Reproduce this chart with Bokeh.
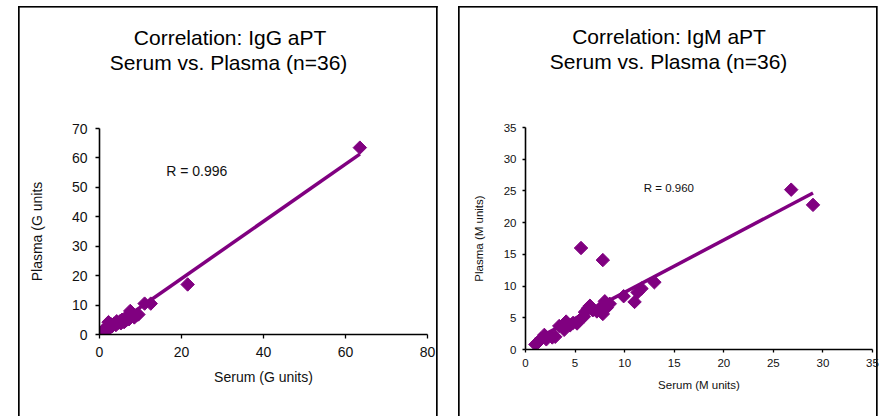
import numpy as np
from bokeh.plotting import figure
from bokeh.models import Range1d, Label, FixedTicker, Title
from bokeh.layouts import row
from bokeh.embed import file_html
from bokeh.resources import INLINE

# ---------------- data ----------------
igg_serum = [0.2, 0.5, 0.6, 0.8, 1.0, 1.2, 1.5, 1.8, 2.0, 2.2, 2.5, 2.8, 3.0, 3.2,
             3.5, 4.0, 4.2, 4.5, 5.0, 5.2, 5.5, 6.0, 6.2, 6.5, 7.0, 7.2, 7.5, 7.8,
             8.0, 8.5, 9.0, 9.5, 11.0, 12.5, 21.5, 63.5]
igg_plasma = [0.3, 0.2, 1.0, 0.8, 1.2, 0.6, 1.8, 2.5, 3.0, 4.2, 2.2, 3.5, 2.8, 3.0,
              3.6, 3.2, 4.5, 4.0, 4.5, 3.8, 5.0, 4.2, 5.5, 4.8, 6.0, 5.2, 8.0, 6.5,
              7.2, 5.8, 6.5, 6.8, 10.5, 10.5, 17.0, 63.5]

igm_serum = [1.0, 1.3, 1.6, 1.9, 2.1, 2.7, 3.0, 3.4, 3.9, 4.0, 4.1, 4.5, 4.8, 5.2,
             5.5, 5.6, 5.9, 6.0, 6.3, 6.5, 6.8, 7.2, 7.5, 7.8, 7.8, 7.9, 8.0, 8.2,
             8.5, 9.9, 11.0, 11.3, 11.7, 13.0, 26.8, 29.0]
igm_plasma = [0.8, 1.2, 1.7, 2.3, 1.6, 1.9, 2.0, 3.7, 3.1, 3.6, 4.4, 3.8, 4.2, 4.1,
              4.7, 16.0, 5.2, 5.9, 6.5, 6.9, 6.2, 6.0, 6.5, 5.6, 14.1, 7.0, 7.6, 6.6,
              7.2, 8.4, 7.5, 9.0, 9.6, 10.6, 25.2, 22.8]

igg_titles = ["Correlation: IgG aPT", "Serum vs. Plasma (n=36)"]
igm_titles = ["Correlation: IgM aPT", "Serum vs. Plasma (n=36)"]
igg_xlabel, igg_ylabel = "Serum (G units)", "Plasma (G units"
igm_xlabel, igm_ylabel = "Serum (M units)", "Plasma (M units)"
igg_r_text = "R = 0.996"
igm_r_text = "R = 0.960"
igg_xticks = [0, 20, 40, 60, 80]
igg_yticks = [0, 10, 20, 30, 40, 50, 60, 70]
igm_xticks = [0, 5, 10, 15, 20, 25, 30, 35]
igm_yticks = [0, 5, 10, 15, 20, 25, 30, 35]

PURPLE = "#800080"
FONT = "Liberation Sans"
H = 416


def border_css(left, right, top):
    """Chart-area border (top, left, right edges; bottom is off the picture)."""
    return {
        "background-image": "linear-gradient(#000,#000), linear-gradient(#000,#000), "
                            "linear-gradient(#000,#000)",
        "background-size": f"{right - left + 1.7}px 1.6px, 1.7px {H}px, 1.7px {H}px",
        "background-position": f"{left}px {top}px, {left}px {top}px, {right}px {top}px",
        "background-repeat": "no-repeat",
    }


def panel(serum, plasma, titles, xlabel, ylabel, r_text, xticks, yticks,
          width, fl, fr, ft, fb, fs, r_px, tick_out, lbl_standoff,
          ylab_standoff, xlab_standoff, box, title_offsets, title_gap):
    xmax, ymax = xticks[-1], yticks[-1]
    p = figure(width=width, height=H, output_backend="svg", toolbar_location=None,
               x_range=Range1d(0, xmax), y_range=Range1d(0, ymax),
               min_border_left=fl, min_border_right=width - fr,
               min_border_top=ft, min_border_bottom=H - fb,
               styles=border_css(*box))
    p.frame_align = False
    p.outline_line_color = None
    p.background_fill_color = "white"
    p.border_fill_alpha = 0
    p.grid.visible = False

    def dx(cx):
        return (cx - fl) / (fr - fl) * xmax

    def dy(cy):
        return (fb - cy) / (fb - ft) * ymax

    for ax, ticks, lab, sto in ((p.xaxis[0], xticks, xlabel, xlab_standoff),
                                (p.yaxis[0], yticks, ylabel, ylab_standoff)):
        ax.ticker = FixedTicker(ticks=ticks)
        ax.axis_line_width = 1.6
        ax.axis_line_color = "black"
        ax.major_tick_line_color = "black"
        ax.major_tick_line_width = 1.3
        ax.major_tick_in = 0
        ax.major_tick_out = tick_out
        ax.minor_tick_line_color = None
        ax.major_label_text_font = FONT
        ax.major_label_text_font_size = f"{fs}px"
        ax.major_label_text_color = "#111111"
        ax.major_label_standoff = lbl_standoff
        ax.axis_label = lab
        ax.axis_label_text_font = FONT
        ax.axis_label_text_font_size = f"{fs}px"
        ax.axis_label_text_font_style = "normal"
        ax.axis_label_text_color = "#111111"
        ax.axis_label_standoff = sto

    # least-squares trendline over the data's x extent
    xs = np.array(serum)
    ys = np.array(plasma)
    m, c = np.polyfit(xs, ys, 1)
    lx = np.array([xs.min(), xs.max()])
    p.line(lx, m * lx + c, line_color=PURPLE, line_width=3.5)
    p.scatter(serum, plasma, marker="square", angle=np.pi / 4, size=9.5,
              fill_color=PURPLE, line_color=PURPLE)

    p.add_layout(Label(x=dx(r_px[0]), y=dy(r_px[1]), text=r_text,
                       text_font=FONT, text_font_size=f"{fs}px",
                       text_color="#111111", text_align="left",
                       text_baseline="middle"))

    # two-line title; the lower line's bottom padding is the gap to the plot
    p.title.text = titles[0]
    p.title.align = "left"
    p.title.offset = title_offsets[0]
    p.title.standoff = 0
    p.title.text_font = FONT
    p.title.text_font_size = "21px"
    p.title.text_font_style = "normal"
    p.title.text_color = "black"
    p.add_layout(Title(text=titles[1], align="left", offset=title_offsets[1],
                       standoff=0, padding=(0, 0, 0, title_gap),
                       text_font=FONT, text_font_size="21px",
                       text_font_style="normal", text_color="black"), "above")
    return p


p1 = panel(igg_serum, igg_plasma, igg_titles, igg_xlabel, igg_ylabel, igg_r_text,
           igg_xticks, igg_yticks, width=448, fl=99, fr=427, ft=128, fb=334,
           fs=14, r_px=(165.7, 170), tick_out=4, lbl_standoff=8,
           ylab_standoff=24, xlab_standoff=9, box=(18, 436, 6),
           title_offsets=(34.3, 10.3), title_gap=55)

p2 = panel(igm_serum, igm_plasma, igm_titles, igm_xlabel, igm_ylabel, igm_r_text,
           igm_xticks, igm_yticks, width=431, fl=77, fr=424, ft=127, fb=349,
           fs=11.5, r_px=(195.3, 187.3), tick_out=3, lbl_standoff=6,
           ylab_standoff=16, xlab_standoff=9, box=(10.3, 428, 6),
           title_offsets=(46.7, 24.3), title_gap=55)

layout = row(p1, p2)
open("out.html", "w").write(file_html(layout, INLINE))
